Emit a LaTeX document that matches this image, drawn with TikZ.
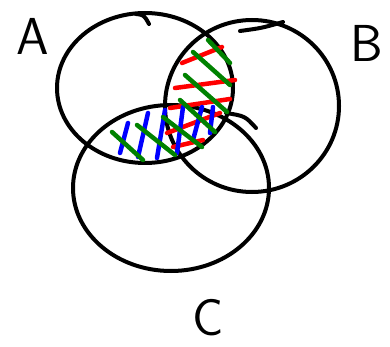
\documentclass[tikz,border=0pt]{standalone}
\usepackage{tikz}
\usepackage{xcolor}
\usetikzlibrary{shapes.geometric}

\definecolor{hatchred}{RGB}{255,0,0}
\definecolor{hatchgreen}{RGB}{0,130,0}
\definecolor{hatchblue}{RGB}{0,0,255}

\begin{document}
\begin{tikzpicture}[x=1pt,y=-1pt,
    setring/.style={ellipse,draw=black,line width=4pt,inner sep=0pt},
    setlabel/.style={font=\sffamily\fontsize{52}{52}\selectfont},
    hatch/.style={line width=4.5pt,line cap=round}]
    \useasboundingbox (0,0) rectangle (390,347);
    % the three sets
    \node[setring,minimum width=176pt,minimum height=150pt] (setA) at (145,88) {};
    \node[setring,minimum width=174pt,minimum height=172pt] (setB) at (252,106) {};
    \node[setring,minimum width=196pt,minimum height=166pt] (setC) at (171,188) {};
    % little pen hooks
    \draw[line width=4pt,line cap=round] (136,14) .. controls (144,15) .. (149,24);
    \draw[line width=4pt,line cap=round] (226,113) .. controls (245,116) .. (256,128);
    \draw[line width=4pt,line cap=round] (240,31) .. controls (262,28) .. (283,22);
    % labels
    \node[setlabel] (labA) at (33,36) {A};
    \node[setlabel] (labB) at (367,43) {B};
    \node[setlabel] (labC) at (208,318) {C};
    % red hatching (A and B)
    \draw[hatch,hatchred] (182,63) -- (222,47);
    \draw[hatch,hatchred] (175,88) -- (235,80);
    \draw[hatch,hatchred] (170,108) -- (230,99);
    \draw[hatch,hatchred] (167,133) -- (220,113);
    \draw[hatch,hatchred] (173,147) -- (203,140);
    % blue hatching (A and C)
    \draw[hatch,hatchblue] (128,123) -- (120,153);
    \draw[hatch,hatchblue] (148,113) -- (138,157);
    \draw[hatch,hatchblue] (165,110) -- (157,158);
    \draw[hatch,hatchblue] (183,107) -- (177,153);
    \draw[hatch,hatchblue] (202,107) -- (193,140);
    \draw[hatch,hatchblue] (213,107) -- (210,133);
    % green hatching over both
    \draw[hatch,hatchgreen] (208,40) -- (230,63);
    \draw[hatch,hatchgreen] (193,52) -- (230,85);
    \draw[hatch,hatchgreen] (185,75) -- (227,112);
    \draw[hatch,hatchgreen] (180,100) -- (215,132);
    \draw[hatch,hatchgreen] (163,117) -- (202,147);
    \draw[hatch,hatchgreen] (137,125) -- (175,155);
    \draw[hatch,hatchgreen] (112,132) -- (143,160);
\end{tikzpicture}
\end{document}
